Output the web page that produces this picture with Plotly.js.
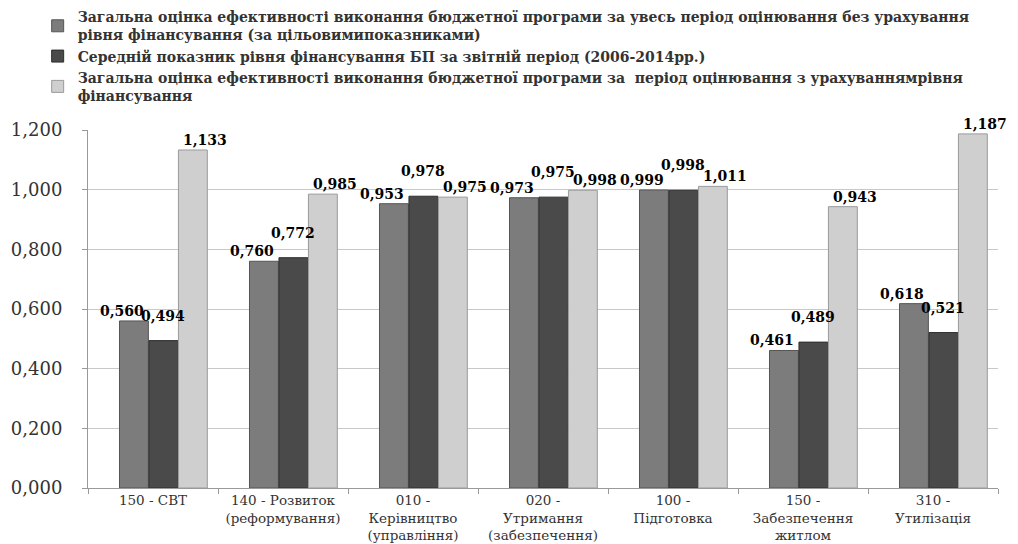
<!DOCTYPE html>
<html><head><meta charset="utf-8">
<script src="https://cdn.plot.ly/plotly-3.0.1.min.js"></script>
<style>html,body{margin:0;padding:0;background:#fff}#chart{width:1018px;height:544px}</style>
</head><body><div id="chart"></div>
<script>
const categories = [
  "150 - СВТ",
  "140 - Розвиток<br>(реформування)",
  "010 -<br>Керівництво<br>(управління)",
  "020 -<br>Утримання<br>(забезпечення)",
  "100 -<br>Підготовка",
  "150 -<br>Забезпечення<br>житлом",
  "310 -<br>Утилізація"
];
const seriesNames = [
  "Загальна оцінка ефективності виконання бюджетної програми за увесь період оцінювання без урахування<br>рівня фінансування (за цільовимипоказниками)",
  "Середній показник рівня фінансування БП за звітній період (2006-2014рр.)",
  "Загальна оцінка ефективності виконання бюджетної програми за  період оцінювання з урахуваннямрівня<br>фінансування"
];
const s1 = [0.560, 0.760, 0.953, 0.973, 0.999, 0.461, 0.618];
const s2 = [0.494, 0.772, 0.978, 0.975, 0.998, 0.489, 0.521];
const s3 = [1.133, 0.985, 0.975, 0.998, 1.011, 0.943, 1.187];
const yTicks = [0, 0.2, 0.4, 0.6, 0.8, 1.0, 1.2];

const series = [s1, s2, s3];
const colors = ["#7c7c7c", "#4a4a4a", "#cfcfcf"];
const lineColors = ["#555555", "#2e2e2e", "#9a9a9a"];
const bargap = 0.32;
const barW = (1 - bargap) / 3;
const depthShift = 0.08;

const data = series.map((vals, i) => ({
  type: "bar",
  x: categories,
  y: vals,
  xaxis: "x2",
  name: seriesNames[i],
  marker: {color: colors[i], line: {color: lineColors[i], width: 1}},
  hoverinfo: "skip"
}));

// dummy trace so the label axis is drawn with the categories
data.push({type: "scatter", x: categories, y: categories.map(() => null), xaxis: "x", showlegend: false, hoverinfo: "skip"});

const labelStyle = [
  {xanchor: "right", xshift: 12, yanchor: "bottom", yshift: 0},
  {xanchor: "center", xshift: 0, yanchor: "bottom", yshift: 15},
  {xanchor: "left", xshift: -12, yanchor: "bottom", yshift: 0}
];
const annotations = [];
series.forEach((vals, i) => {
  vals.forEach((v, j) => {
    annotations.push(Object.assign({
      xref: "x2", yref: "y",
      x: j + (i - 1) * barW, y: v,
      text: v.toFixed(3).replace(".", ","),
      showarrow: false,
      font: {family: "DejaVu Serif", size: 14, color: "#000", weight: "bold"}
    }, labelStyle[i]));
  });
});

const layout = {
  width: 1018, height: 544,
  margin: {l: 88, r: 20, t: 130, b: 56, autoexpand: false},
  paper_bgcolor: "#fff", plot_bgcolor: "#fff",
  separators: ", ",
  barmode: "group",
  bargap: bargap,
  bargroupgap: 0.02,
  font: {family: "DejaVu Serif", color: "#222"},
  showlegend: true,
  legend: {
    xref: "container", yref: "container",
    x: 0.037, y: 0.998, xanchor: "left", yanchor: "top",
    font: {family: "DejaVu Serif", size: 14, color: "#333", weight: "bold"},
    tracegroupgap: 4, itemwidth: 30, traceorder: "normal",
    bgcolor: "rgba(0,0,0,0)"
  },
  annotations: annotations,
  xaxis: {
    type: "category",
    range: [-0.5, 6.5],
    showline: true, linecolor: "#999", linewidth: 1,
    ticks: "outside", tickson: "boundaries", tickcolor: "#999", ticklen: 5,
    tickangle: 0,
    tickfont: {family: "DejaVu Serif", size: 13.5, color: "#333"},
    showgrid: false
  },
  xaxis2: {
    type: "category",
    overlaying: "x",
    range: [-0.5 - depthShift, 6.5 - depthShift],
    visible: false,
    showgrid: false
  },
  yaxis: {
    range: [0, 1.2],
    tickvals: yTicks,
    tickformat: ".3f",
    showline: true, linecolor: "#999", linewidth: 1,
    ticks: "outside", tickcolor: "#999", ticklen: 5,
    ticklabelstandoff: 16,
    tickfont: {family: "DejaVu Serif", size: 18, color: "#333"},
    gridcolor: "#c8c8c8", gridwidth: 1,
    zeroline: false
  }
};
Plotly.newPlot("chart", data, layout, {displayModeBar: false, staticPlot: true});
</script></body></html>
